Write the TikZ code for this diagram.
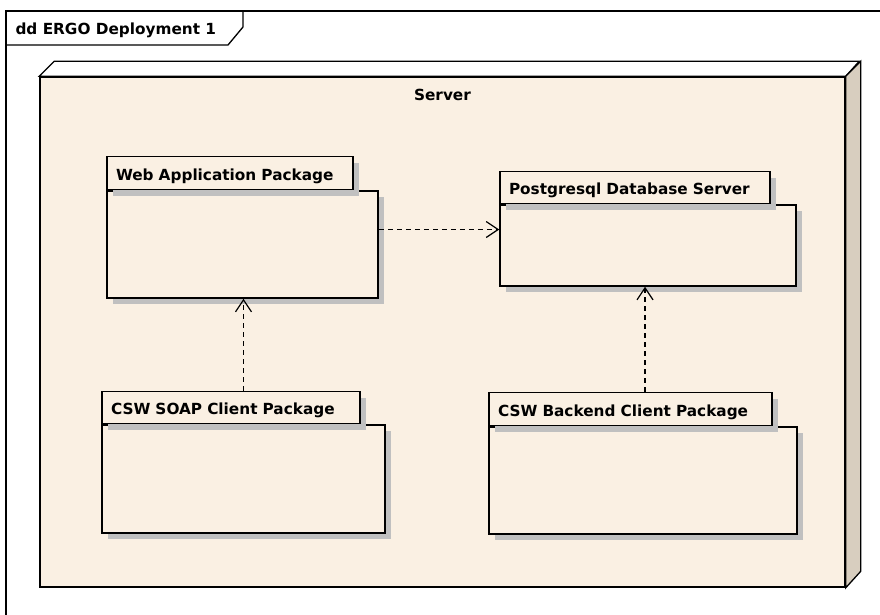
\documentclass[tikz,border=0pt]{standalone}
\usepackage{fontspec}
\setmainfont{DejaVu Sans}
\usepackage{tikz}
\usetikzlibrary{arrows.meta,positioning,shadows,calc}

\definecolor{nodefill}{RGB}{250,240,227}
\definecolor{nodeside}{RGB}{216,206,191}
\definecolor{shade}{RGB}{192,192,192}

\begin{document}
\begin{tikzpicture}[
  x=1pt, y=-1pt,
  font=\fontsize{15.3}{18}\selectfont\bfseries,
  pkg/.style={draw, line width=1.5pt, fill=nodefill, inner sep=0pt,
    general shadow={fill=shade, shadow xshift=6pt, shadow yshift=-6pt}},
  pkgtab/.style={pkg, anchor=south west, align=left, inner xsep=9pt,
    minimum height=33pt, text height=14pt, text depth=0pt},
  dep/.style={dashed, dash pattern=on 5pt off 4pt, line width=1.2pt,
    -{Straight Barb[length=12pt, width=16pt, line width=1.2pt]}},
]
\useasboundingbox (0,0) rectangle (880,614);

% diagram frame
\draw[line width=1.5pt] (6,640) -- (6,11) -- (890,11);
\draw[line width=1.3pt] (6,45) -- (228,45) -- (243,27) -- (243,11);
\node[anchor=west, text depth=0pt] (title) at (12,29) {dd ERGO Deployment 1};

% server node (3d box)
\node[draw, line width=1.5pt, fill=nodefill, minimum width=805pt,
  minimum height=510pt] (server) at (442.5,332) {};
\draw[line width=1.3pt, fill=white] (server.north west) -- ++(15,-15)
  -- ++(805,0) -- (server.north east) -- cycle;
\draw[line width=1.3pt, fill=nodeside] (server.north east) -- ++(15,-15)
  -- ++(0,510) -- (server.south east) -- cycle;
\node[below=9pt of server.north] (servername) {Server};

% packages
\node[pkg, minimum width=271pt, minimum height=107pt] (webapp) at (242.5,244.5) {};
\node[pkgtab, text width=228pt] (webappTab) at (webapp.north west) {Web Application Package};
\node[pkg, minimum width=296pt, minimum height=81pt] (pgsql) at (648,245.5) {};
\node[pkgtab, text width=252pt, minimum height=32pt] (pgsqlTab) at (pgsql.north west) {Postgresql Database Server};
\node[pkg, minimum width=283pt, minimum height=108pt] (soap) at (243.5,479) {};
\node[pkgtab, text width=240pt, minimum height=32pt] (soapTab) at (soap.north west) {CSW SOAP Client Package};
\node[pkg, minimum width=308pt, minimum height=107pt] (backend) at (643,480.5) {};
\node[pkgtab, text width=265pt] (backendTab) at (backend.north west) {CSW Backend Client Package};

% dependencies
\draw[dep] ([yshift=15pt]webapp.east) coordinate (d1) -- (d1 -| pgsql.west);
\draw[dep] (soap.north |- soapTab.north) -- (webapp.south -| soap.north);
\draw[dep] ([xshift=-3pt]pgsql.south |- backendTab.north) coordinate (d2) -- (d2 |- pgsql.south);
\end{tikzpicture}
\end{document}
